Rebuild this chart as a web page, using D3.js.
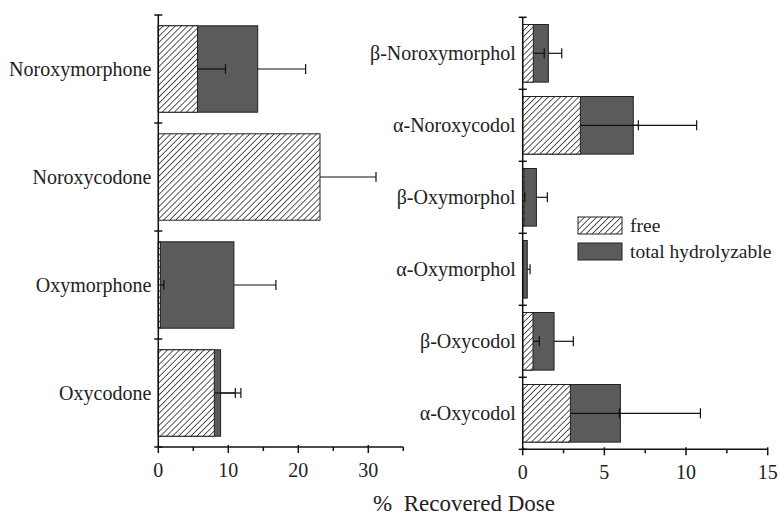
<!DOCTYPE html>
<html>
<head>
<meta charset="utf-8">
<script src="https://cdn.jsdelivr.net/npm/d3@7"></script>
<style>
  body { margin: 0; background: #fff; }
  svg text { font-family: "Liberation Serif", Tinos, serif; }
</style>
</head>
<body>
<div id="chart"></div>
<script>
// left panel: parent compounds (% dose, free vs total hydrolyzable)
var left_cats = ["Noroxymorphone", "Noroxycodone", "Oxymorphone", "Oxycodone"]
var left_free = [5.6, 23.1, 0.3, 8.0]
var left_free_sd = [4.0, 8.0, 0.5, 3.0]
var left_total = [14.2, 0, 10.8, 8.9]
var left_total_sd = [6.85, 0, 6.0, 2.9]
var left_ticks = [0, 10, 20, 30]
var left_minor = [5, 15, 25, 35]

// right panel: 6-keto reduced metabolites
var right_cats = ["β-Noroxymorphol", "α-Noroxycodol", "β-Oxymorphol", "α-Oxymorphol", "β-Oxycodol", "α-Oxycodol"]
var right_free = [0.65, 3.53, 0.08, 0, 0.63, 2.92]
var right_free_sd = [0.67, 3.55, 0.05, 0, 0.39, 3.0]
var right_total = [1.57, 6.77, 0.84, 0.28, 1.92, 5.98]
var right_total_sd = [0.82, 3.88, 0.67, 0.17, 1.18, 4.9]
var right_ticks = [0, 5, 10, 15]
var right_minor = [2.5, 7.5, 12.5]

var width = 778
var height = 517
var dark = "#5b5b5b"

var svg = d3.select("#chart").append("svg")
    .attr("width", width)
    .attr("height", height)

// hatch pattern for "free"
var pat = svg.append("defs").append("pattern")
    .attr("id", "hatch")
    .attr("patternUnits", "userSpaceOnUse")
    .attr("width", 4.3)
    .attr("height", 4.3)
    .attr("patternTransform", "rotate(45)")
pat.append("rect").attr("width", 4.3).attr("height", 4.3).attr("fill", "#fff")
pat.append("line")
    .attr("x1", 0).attr("y1", 0).attr("x2", 0).attr("y2", 4.3)
    .attr("stroke", "#111").attr("stroke-width", 1.4)

function panel(cats, free, free_sd, total, total_sd, ticks, minor, x0, x1, xmax, y0, y1) {
    var x = d3.scaleLinear().domain([0, xmax]).range([x0, x1])
    var y = d3.scaleBand().domain(cats).range([y0, y1])
        .paddingInner(0.2).paddingOuter(0.1)
    var step = y.step()

    var g = svg.append("g")

    // total bars first, free bars on top
    g.selectAll(".total").data(cats).enter().append("rect")
        .attr("x", x(0))
        .attr("y", (d) => y(d))
        .attr("width", (d, i) => x(total[i]) - x(0))
        .attr("height", y.bandwidth())
        .attr("fill", dark)
        .attr("stroke", "#222")
        .attr("stroke-width", 1)
        .style("display", (d, i) => total[i] > 0 ? null : "none")

    g.selectAll(".free").data(cats).enter().append("rect")
        .attr("x", x(0))
        .attr("y", (d) => y(d))
        .attr("width", (d, i) => x(free[i]) - x(0))
        .attr("height", y.bandwidth())
        .attr("fill", "url(#hatch)")
        .attr("stroke", "#222")
        .attr("stroke-width", 1)
        .style("display", (d, i) => free[i] > 0 ? null : "none")

    // one-sided error bars
    function errors(vals, sds) {
        cats.forEach((c, i) => {
            if (!sds[i]) return
            var cy = y(c) + y.bandwidth() / 2
            g.append("line")
                .attr("x1", x(vals[i])).attr("x2", x(vals[i] + sds[i]))
                .attr("y1", cy).attr("y2", cy)
                .attr("stroke", "#111").attr("stroke-width", 1.2)
            g.append("line")
                .attr("x1", x(vals[i] + sds[i])).attr("x2", x(vals[i] + sds[i]))
                .attr("y1", cy - 5).attr("y2", cy + 5)
                .attr("stroke", "#111").attr("stroke-width", 1.2)
        })
    }
    errors(total, total_sd)
    errors(free, free_sd)

    // y axis with ticks at category boundaries
    g.append("line")
        .attr("x1", x(0)).attr("x2", x(0))
        .attr("y1", y0).attr("y2", y1)
        .attr("stroke", "#111").attr("stroke-width", 1.5)
    d3.range(cats.length + 1).forEach((i) => {
        g.append("line")
            .attr("x1", x(0) - 4).attr("x2", x(0) + 4)
            .attr("y1", y0 + i * step).attr("y2", y0 + i * step)
            .attr("stroke", "#111").attr("stroke-width", 1.5)
    })
    g.selectAll(".lab").data(cats).enter().append("text")
        .attr("x", x(0) - 7)
        .attr("y", (d) => y(d) + y.bandwidth() / 2)
        .attr("dy", "0.35em")
        .attr("text-anchor", "end")
        .style("font-size", "20px")
        .attr("fill", "#222")
        .text((d) => d)

    // x axis
    var xa = g.append("g").attr("transform", "translate(0," + y1 + ")")
    xa.append("line")
        .attr("x1", x(0)).attr("x2", x(xmax))
        .attr("stroke", "#111").attr("stroke-width", 1.5)
    xa.selectAll(".maj").data(ticks).enter().append("line")
        .attr("x1", (d) => x(d)).attr("x2", (d) => x(d))
        .attr("y1", -2).attr("y2", 6)
        .attr("stroke", "#111").attr("stroke-width", 1.5)
    xa.selectAll(".min").data(minor).enter().append("line")
        .attr("x1", (d) => x(d)).attr("x2", (d) => x(d))
        .attr("y1", 0).attr("y2", 4)
        .attr("stroke", "#111").attr("stroke-width", 1.5)
    xa.selectAll(".tl").data(ticks).enter().append("text")
        .attr("x", (d) => x(d))
        .attr("y", 30)
        .attr("text-anchor", "middle")
        .style("font-size", "20px")
        .attr("fill", "#222")
        .text((d) => d)
}

panel(left_cats, left_free, left_free_sd, left_total, left_total_sd,
    left_ticks, left_minor, 158.3, 403.3, 35, 15, 447)
panel(right_cats, right_free, right_free_sd, right_total, right_total_sd,
    right_ticks, right_minor, 522.7, 767.7, 15, 17.3, 449.3)

// legend
var legend = svg.append("g").attr("transform", "translate(578,217)")
var items = [["free", "url(#hatch)"], ["total hydrolyzable", dark]]
items.forEach((it, i) => {
    legend.append("rect")
        .attr("x", 0).attr("y", i * 26)
        .attr("width", 44).attr("height", 17)
        .attr("fill", it[1])
        .attr("stroke", "#222").attr("stroke-width", 1)
    legend.append("text")
        .attr("x", 52).attr("y", i * 26 + 8.5)
        .attr("dy", "0.35em")
        .style("font-size", "19.5px")
        .attr("fill", "#222")
        .text(it[0])
})

svg.append("text")
    .attr("x", 464)
    .attr("y", 511)
    .attr("text-anchor", "middle")
    .style("font-size", "23px")
    .style("white-space", "pre")
    .attr("fill", "#222")
    .text("%  Recovered Dose")
</script>
</body>
</html>
